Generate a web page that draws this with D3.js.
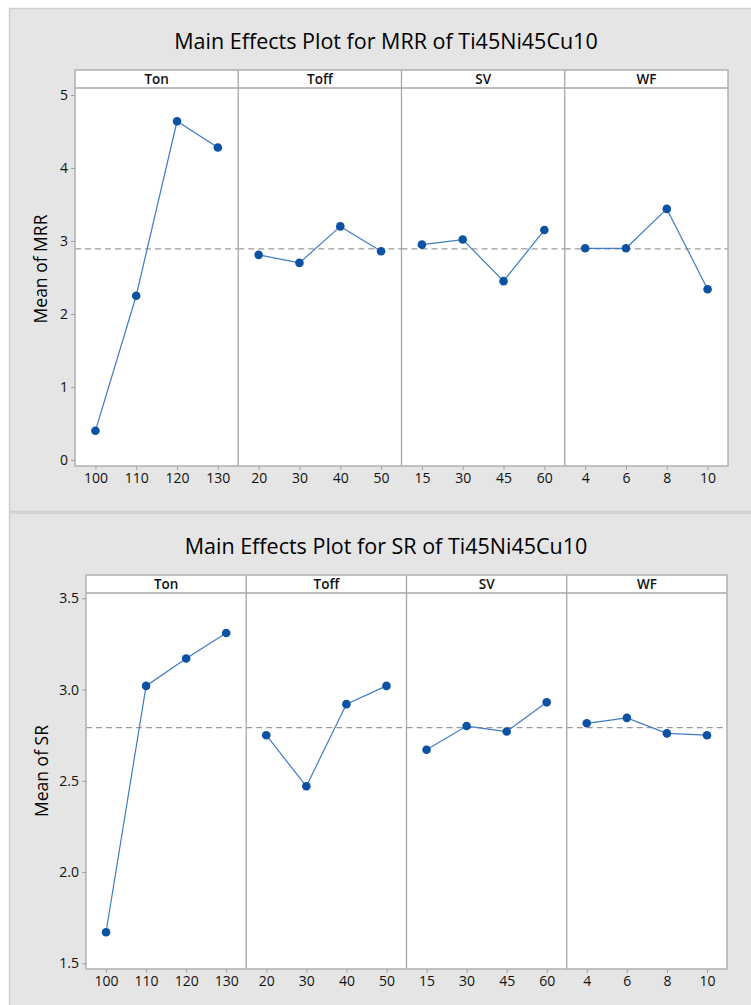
<!DOCTYPE html>
<html>
<head>
<meta charset="utf-8">
<script src="https://cdn.jsdelivr.net/npm/d3@7"></script>
<style>
  body { margin: 0; background: #fff; }
  svg { display: block; }
  text { font-family: "Open Sans", "Noto Sans", sans-serif; fill: #111; }
</style>
</head>
<body>
<svg id="chart" width="751" height="1005"></svg>
<script>
const factors = ["Ton", "Toff", "SV", "WF"];
const tonLevels = [100, 110, 120, 130];
const toffLevels = [20, 30, 40, 50];
const svLevels = [15, 30, 45, 60];
const wfLevels = [4, 6, 8, 10];

// Mean of MRR at each level
const mrrTon = [0.40, 2.25, 4.64, 4.28];
const mrrToff = [2.81, 2.70, 3.20, 2.86];
const mrrSV = [2.95, 3.02, 2.45, 3.15];
const mrrWF = [2.90, 2.90, 3.44, 2.34];
const mrrTicks = [0, 1, 2, 3, 4, 5];

// Mean of SR at each level
const srTon = [1.67, 3.02, 3.17, 3.31];
const srToff = [2.75, 2.47, 2.92, 3.02];
const srSV = [2.67, 2.80, 2.77, 2.93];
const srWF = [2.815, 2.845, 2.76, 2.75];
const srTicks = [1.5, 2.0, 2.5, 3.0, 3.5];

const levels = [tonLevels, toffLevels, svLevels, wfLevels];

const svg = d3.select("#chart");

function drawPlot(opts) {
  const g = svg.append("g");

  // grey card behind each plot
  g.append("rect")
    .attr("x", 9.5).attr("y", opts.top + 0.5)
    .attr("width", 745).attr("height", opts.cardH)
    .attr("fill", "#e5e5e5")
    .attr("stroke", "#cdcdcd")
    .attr("stroke-width", 1.5);

  g.append("text")
    .attr("x", opts.titleX)
    .attr("y", opts.titleY)
    .attr("text-anchor", "middle")
    .style("font-size", "21.5px")
    .style("fill", "#000")
    .text(opts.title);

  const y = d3.scaleLinear().domain(opts.yDomain).range(opts.yRange);
  const left = opts.left, right = opts.right;
  const hTop = opts.headerTop, hBot = opts.headerTop + 18, bottom = opts.bottom;
  const colW = (right - left) / factors.length;
  const mean = d3.mean(opts.series.flat());

  // white plot area
  g.append("rect")
    .attr("x", left).attr("y", hTop)
    .attr("width", right - left).attr("height", bottom - hTop)
    .attr("fill", "#fff");

  const line = d3.line().x(d => d[0]).y(d => d[1]);

  factors.forEach((f, i) => {
    const x0 = left + i * colW, x1 = x0 + colW;
    const x = d3.scalePoint().domain(levels[i]).range([x0, x1]).padding(0.5);

    g.append("text")
      .attr("x", (x0 + x1) / 2)
      .attr("y", hBot - 4)
      .attr("text-anchor", "middle")
      .style("font-size", "13.5px")
      .style("font-weight", 600)
      .text(f);

    // x axis for this factor
    const ax = g.append("g")
      .attr("transform", `translate(0,${bottom})`)
      .call(d3.axisBottom(x).tickSize(4).tickPadding(3));
    ax.select(".domain").remove();
    ax.selectAll("line").attr("stroke", "#a0a0a0");
    ax.selectAll("text").style("font-size", "14px").style("font-family", null).attr("fill", "#111");

    // mean reference line
    g.append("line")
      .attr("x1", x0).attr("x2", x1)
      .attr("y1", y(mean)).attr("y2", y(mean))
      .attr("stroke", "#9a9a9a")
      .attr("stroke-dasharray", "6,4")
      .attr("stroke-width", 1.2);

    const pts = levels[i].map((lv, k) => [x(lv), y(opts.series[i][k])]);
    g.append("path")
      .attr("d", line(pts))
      .attr("fill", "none")
      .attr("stroke", "#3f7cc4")
      .attr("stroke-width", 1.2);

    g.selectAll(null)
      .data(pts)
      .enter().append("circle")
      .attr("cx", d => d[0])
      .attr("cy", d => d[1])
      .attr("r", 4.3)
      .attr("fill", "#0b52a3");

    if (i > 0) {
      g.append("line")
        .attr("x1", x0).attr("x2", x0)
        .attr("y1", hTop).attr("y2", bottom)
        .attr("stroke", "#a6a6a6").attr("stroke-width", 1.3);
    }
  });

  // header separator and frame
  g.append("line")
    .attr("x1", left).attr("x2", right)
    .attr("y1", hBot).attr("y2", hBot)
    .attr("stroke", "#a6a6a6").attr("stroke-width", 1.3);
  g.append("rect")
    .attr("x", left).attr("y", hTop)
    .attr("width", right - left).attr("height", bottom - hTop)
    .attr("fill", "none")
    .attr("stroke", "#b0b0b0").attr("stroke-width", 1.5);

  // y axis
  const ay = g.append("g")
    .attr("transform", `translate(${left},0)`)
    .call(d3.axisLeft(y).tickValues(opts.ticks).tickFormat(opts.fmt).tickSize(4).tickPadding(3));
  ay.select(".domain").remove();
  ay.selectAll("line").attr("stroke", "#a0a0a0");
  ay.selectAll("text").style("font-size", "14px").style("font-family", null).attr("fill", "#111");

  g.append("text")
    .attr("transform", `translate(${opts.labelX},${opts.labelY}) rotate(-90)`)
    .attr("text-anchor", "middle")
    .style("font-size", "17.5px")
    .style("fill", "#000")
    .text(opts.ylabel);
}

drawPlot({
  top: 8, cardH: 503,
  title: "Main Effects Plot for MRR of Ti45Ni45Cu10",
  titleX: 386, titleY: 49,
  left: 75, right: 728, headerTop: 70, bottom: 466,
  yDomain: [0, 5], yRange: [460, 95],
  ticks: mrrTicks, fmt: d3.format("d"),
  series: [mrrTon, mrrToff, mrrSV, mrrWF],
  ylabel: "Mean of MRR", labelX: 47, labelY: 269
});

drawPlot({
  top: 512.5, cardH: 494,
  title: "Main Effects Plot for SR of Ti45Ni45Cu10",
  titleX: 386, titleY: 554,
  left: 86, right: 727, headerTop: 575, bottom: 969,
  yDomain: [1.5, 3.5], yRange: [963.3, 598.3],
  ticks: srTicks, fmt: d3.format(".1f"),
  series: [srTon, srToff, srSV, srWF],
  ylabel: "Mean of SR", labelX: 48, labelY: 771
});
</script>
</body>
</html>
